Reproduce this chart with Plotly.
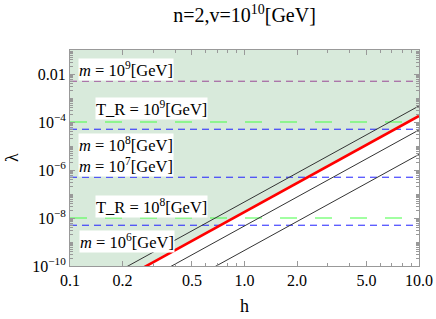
import plotly.graph_objects as go

# ---- data ----
h_ends = [0.1, 10.0]
# diagonal lines (lambda at h=0.1 and h=10)
upper_black = [10**-11.33, 10**-3.33]
red_line = [10**-11.75, 10**-3.75]
lower_black1 = [10**-12.33, 10**-4.33]
lower_black2 = [10**-13.35, 10**-5.35]
fill_top = [1.0, 1.0]

# horizontal levels
m_levels = [5e-3, 5e-5, 5e-7, 5e-9]          # m = 1e9, 1e8, 1e7, 1e6
m_colors = ["#9a4a96", "#2020ff", "#2020ff", "#2020ff"]
tr_levels = [1e-4, 1e-8]                      # T_R = 1e9, 1e8

# labels: text, x (paper), log10(lambda) of centre
label_texts = ["<i>m</i> = 10<sup>9</sup>[GeV]", "T_R = 10<sup>9</sup>[GeV]",
               "<i>m</i> = 10<sup>8</sup>[GeV]", "<i>m</i> = 10<sup>7</sup>[GeV]",
               "T_R = 10<sup>8</sup>[GeV]", "<i>m</i> = 10<sup>6</sup>[GeV]"]
label_x = [0.024, 0.071, 0.024, 0.024, 0.071, 0.027]
label_logy = [-1.83, -3.42, -4.95, -5.83, -7.54, -8.99]

x_ticks = [0.1, 0.2, 0.5, 1, 2, 5, 10]
x_ticktext = ["0.1", "0.2", "0.5", "1.0", "2.0", "5.0", "10.0"]
y_ticks = [1e-2, 1e-4, 1e-6, 1e-8, 1e-10]
y_ticktext = ["0.01", "10<sup>−4</sup>", "10<sup>−6</sup>", "10<sup>−8</sup>", "10<sup>−10</sup>"]

x_minor = [k * 10**e for e in (-1, 0) for k in range(2, 10) if k * 10**e not in x_ticks]
y_minor = [k * 10.0**e for e in range(-10, 0) for k in range(1, 10) if not (k == 1 and e % 2 == 0)]

FONT = "Liberation Serif"

fig = go.Figure()

# green allowed region (above the red line)
fig.add_trace(go.Scatter(x=h_ends, y=fill_top, mode="lines", line=dict(width=0),
                         showlegend=False, hoverinfo="skip"))
fig.add_trace(go.Scatter(x=h_ends, y=red_line, mode="lines", line=dict(width=0),
                         fill="tonexty", fillcolor="rgb(216,234,219)",
                         showlegend=False, hoverinfo="skip"))

for lv, col in zip(m_levels, m_colors):
    fig.add_trace(go.Scatter(x=h_ends, y=[lv, lv], mode="lines",
                             line=dict(color=col, width=1, dash="7px,5px"),
                             showlegend=False))
for lv in tr_levels:
    fig.add_trace(go.Scatter(x=h_ends, y=[lv, lv], mode="lines",
                             line=dict(color="#44ff44", width=1.2, dash="17px,18px"),
                             showlegend=False))

for ys in (upper_black, lower_black1, lower_black2):
    fig.add_trace(go.Scatter(x=h_ends, y=ys, mode="lines",
                             line=dict(color="#333333", width=1), showlegend=False))
fig.add_trace(go.Scatter(x=h_ends, y=red_line, mode="lines",
                         line=dict(color="#ff0000", width=2.6), showlegend=False))

for t, xp, ly in zip(label_texts, label_x, label_logy):
    fig.add_annotation(text=t, x=xp, xref="paper", y=ly, yref="y",
                       xanchor="left", yanchor="middle", showarrow=False,
                       bgcolor="white", borderpad=0,
                       font=dict(family=FONT, size=16.5, color="black"))

# axis titles
fig.add_annotation(text="h", x=0.5, xref="paper", y=-0.185, yref="paper",
                   xanchor="center", yanchor="middle", showarrow=False,
                   font=dict(family=FONT, size=18, color="black"))
fig.add_annotation(text="λ", x=-0.166, xref="paper", y=0.5, yref="paper",
                   xanchor="center", yanchor="middle", showarrow=False, textangle=-90,
                   font=dict(family=FONT, size=18, color="black"))

axis_common = dict(showline=True, linecolor="#999999", linewidth=1, mirror="ticks",
                   ticks="inside", ticklen=5, tickcolor="#999999", tickwidth=1,
                   showgrid=False, zeroline=False, automargin=False,
                   tickfont=dict(family=FONT, size=16, color="black"))

fig.update_xaxes(type="log", range=[-1, 1], tickmode="array", tickvals=x_ticks,
                 ticktext=x_ticktext,
                 minor=dict(tickmode="array", tickvals=x_minor, ticks="inside",
                            ticklen=3, tickcolor="#999999", showgrid=False),
                 **axis_common)
fig.update_yaxes(type="log", range=[-10, -1], tickmode="array", tickvals=y_ticks,
                 ticktext=y_ticktext,
                 minor=dict(tickmode="array", tickvals=y_minor, ticks="inside",
                            ticklen=3, tickcolor="#999999", showgrid=False),
                 **axis_common)

fig.update_layout(
    width=436, height=319,
    margin=dict(l=70, r=17, t=50, b=53),
    plot_bgcolor="white", paper_bgcolor="white",
    title=dict(text="n=2,v=10<sup>10</sup>[GeV]", x=(70 + 419) / 2 / 436, xanchor="center",
               y=1 - 15 / 319, yanchor="middle", yref="container",
               font=dict(family=FONT, size=20, color="black")),
    showlegend=False,
)

fig.write_html("out.html", config={"displayModeBar": False},
               post_script="document.body.style.margin='0';document.body.style.overflow='hidden';")
